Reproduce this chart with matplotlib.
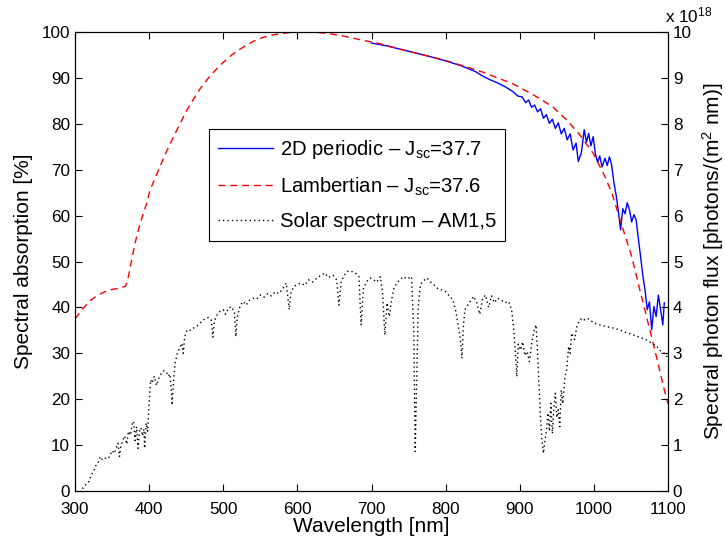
import matplotlib
matplotlib.use("Agg")
import matplotlib.pyplot as plt

plt.rcParams['font.family'] = ['Liberation Sans', 'DejaVu Sans']
plt.rcParams['mathtext.fontset'] = 'custom'
plt.rcParams['mathtext.rm'] = 'Liberation Sans'
plt.rcParams['mathtext.it'] = 'Liberation Sans'

# ---- data ----
periodic_wl = [700, 720, 740, 760, 780, 800, 820, 840, 850, 860, 870, 880, 890, 898, 903, 908, 912, 916, 920,
               924, 928, 932, 936, 940, 944, 948, 952, 956, 960, 964, 968, 972, 976, 979, 983, 987, 990,
               993, 996, 999, 1002, 1005, 1008, 1011, 1015, 1018, 1021, 1024, 1027, 1030, 1033, 1036,
               1039, 1042, 1045, 1048, 1051, 1054, 1057, 1060, 1063, 1066, 1069, 1072, 1075, 1078,
               1081, 1084, 1087, 1090, 1093, 1095]
periodic_abs = [97.6, 97.0, 96.2, 95.4, 94.6, 93.7, 92.7, 91.4, 90.4, 89.6, 88.9, 88.1, 87.1, 86.0, 85.9, 84.6,
                85.2, 83.6, 84.1, 82.6, 83.3, 81.2, 82.0, 80.1, 81.0, 79.0, 80.2, 77.8, 79.0, 76.5,
                77.8, 74.3, 75.8, 71.8, 73.6, 78.7, 76.0, 77.9, 75.2, 77.2, 73.5, 71.6, 73.0, 70.6, 72.5,
                70.9, 72.8, 71.0, 67.2, 64.5, 61.0, 56.9, 61.5, 60.4, 62.8, 61.3, 58.6, 60.2, 59.1,
                55.0, 51.1, 47.0, 43.8, 39.5, 41.2, 35.1, 40.2, 38.0, 42.7, 39.5, 36.2, 41.0]

lamb_wl = [300, 310, 320, 330, 340, 350, 360, 368, 372, 376, 381, 386, 391, 397, 401, 408, 415, 422, 431,
           440, 451, 460, 469, 482, 496, 507, 518, 530, 541, 555, 568, 585, 600, 620, 640, 660, 685,
           710, 740, 770, 800, 830, 851, 870, 891, 914, 930, 945, 963, 981, 999, 1015, 1025, 1037,
           1051, 1062, 1071, 1080, 1087, 1094, 1100]
lamb_abs = [37.5, 39.6, 41.4, 42.6, 43.4, 43.9, 44.2, 44.6, 46.7, 50.0, 54.0, 57.2, 59.9, 62.8, 65.4, 68.2,
            70.8, 73.5, 76.5, 79.5, 83.0, 85.4, 87.7, 90.4, 92.8, 94.4, 95.8, 97.0, 98.0, 98.9, 99.4,
            99.8, 100.0, 100.0, 99.7, 99.2, 98.3, 97.5, 96.2, 95.0, 93.8, 92.3, 91.2, 90.0, 88.7,
            86.7, 85.2, 83.6, 80.9, 77.6, 73.6, 68.5, 64.6, 58.2, 51.1, 43.8, 38.0, 32.2, 27.5, 22.7, 19.0]

solar_wl = [310, 315, 318, 322, 325, 328, 331, 334, 337, 340, 344, 347, 350, 353, 356, 358, 360, 362, 365,
            367, 370, 372, 375, 377, 379, 381, 383, 385, 387, 389, 391, 393, 394, 396, 398, 399, 400,
            402, 404, 407, 410, 413, 416, 420, 423, 426, 428, 430, 431, 433, 435, 438, 441, 444, 446,
            448, 451, 453, 456, 460, 465, 470, 475, 480, 484, 486, 488, 492, 496, 500, 503, 507, 511,
            515, 517, 519, 523, 527, 531, 535, 540, 545, 550, 555, 560, 565, 570, 575, 580, 585, 587,
            589, 591, 595, 600, 605, 610, 615, 620, 625, 630, 637, 642, 648, 653, 656, 659, 663, 669,
            674, 678, 683, 686, 689, 693, 698, 703, 707, 712, 715, 718, 721, 724, 727, 730, 734, 738,
            743, 748, 754, 757, 759, 761, 763, 766, 770, 775, 780, 785, 790, 795, 800, 805, 810, 814,
            817, 820, 822, 824, 826, 830, 834, 838, 842, 846, 850, 854, 858, 862, 866, 870, 875, 880,
            885, 889, 892, 895, 896, 898, 901, 904, 907, 910, 913, 916, 919, 922, 924, 926, 928, 930,
            932, 934, 936, 938, 940, 942, 944, 946, 948, 950, 952, 954, 956, 958, 961, 963, 966, 968,
            970, 974, 977, 980, 984, 988, 993, 1000, 1008, 1017, 1026, 1035, 1044, 1053, 1062, 1071,
            1078, 1085, 1090, 1095, 1100]
solar_flux = [0.05, 0.15, 0.18, 0.35, 0.42, 0.55, 0.60, 0.75, 0.68, 0.72, 0.70, 0.76, 0.88, 0.82, 0.95, 1.04,
              0.75, 0.98, 1.12, 1.20, 1.02, 1.30, 1.22, 1.45, 1.52, 1.10, 1.40, 0.93, 1.30, 1.38, 1.20,
              1.35, 0.93, 1.48, 1.30, 1.60, 1.90, 2.42, 2.35, 2.50, 2.30, 2.45, 2.55, 2.62, 2.60, 2.50,
              2.55, 2.20, 1.87, 2.40, 2.78, 3.00, 3.10, 3.22, 3.00, 3.36, 3.50, 3.52, 3.50, 3.55, 3.60,
              3.68, 3.75, 3.78, 3.72, 3.35, 3.70, 3.85, 3.92, 3.95, 3.85, 3.98, 4.02, 3.90, 3.36, 3.80,
              4.05, 4.13, 4.05, 4.15, 4.20, 4.18, 4.27, 4.22, 4.30, 4.25, 4.34, 4.30, 4.40, 4.53, 4.25,
              3.95, 4.30, 4.45, 4.50, 4.53, 4.48, 4.60, 4.55, 4.62, 4.68, 4.75, 4.65, 4.70, 4.60, 4.05,
              4.55, 4.70, 4.80, 4.78, 4.75, 4.68, 3.62, 4.40, 4.55, 4.64, 4.60, 4.55, 4.67, 4.30, 3.40,
              4.10, 3.80, 4.15, 4.40, 4.53, 4.60, 4.67, 4.62, 4.67, 3.50, 0.86, 2.50, 4.00, 4.50, 4.58,
              4.64, 4.55, 4.48, 4.40, 4.38, 4.34, 4.25, 4.16, 3.90, 3.60, 3.30, 2.89, 3.60, 3.95, 4.05,
              4.15, 4.24, 4.10, 3.85, 4.20, 4.27, 4.00, 4.25, 4.10, 4.20, 4.16, 4.10, 4.13, 3.95, 3.50,
              2.80, 2.49, 3.20, 3.07, 3.25, 2.95, 3.04, 2.82, 3.20, 3.47, 3.62, 3.00, 2.30, 1.60, 1.10,
              0.82, 1.10, 1.33, 1.70, 1.30, 1.91, 1.25, 1.80, 2.13, 1.60, 1.77, 1.40, 2.20, 1.90, 2.49,
              2.60, 3.15, 3.00, 3.44, 3.30, 3.58, 3.70, 3.77, 3.72, 3.75, 3.66, 3.62, 3.58, 3.55, 3.51,
              3.45, 3.40, 3.35, 3.29, 3.22, 3.15, 3.05, 3.00, 2.90]

x_ticks = [300, 400, 500, 600, 700, 800, 900, 1000, 1100]
left_ticks = [0, 10, 20, 30, 40, 50, 60, 70, 80, 90, 100]
right_ticks = [0, 1, 2, 3, 4, 5, 6, 7, 8, 9, 10]

labels = ['2D periodic \u2013 J$_{\\mathrm{sc}}$=37.7',
          'Lambertian \u2013 J$_{\\mathrm{sc}}$=37.6',
          'Solar spectrum \u2013 AM1,5']

# ---- figure ----
fig = plt.figure(figsize=(7.26, 5.44), dpi=100)
ax = fig.add_axes([75 / 726, 53 / 544, 593 / 726, 459 / 544])
ax2 = ax.twinx()

l1, = ax.plot(periodic_wl, periodic_abs, color='#0000ff', lw=1.0)
l2, = ax.plot(lamb_wl, lamb_abs, color='#ff0000', lw=1.0, linestyle=(0, (5, 3.5)))
l3, = ax2.plot(solar_wl, solar_flux, color='black', lw=1.0, linestyle=(0, (1, 2.2)))

ax.set_xlim(300, 1100)
ax.set_ylim(0, 100)
ax2.set_ylim(0, 10)
ax.set_xticks(x_ticks)
ax.set_yticks(left_ticks)
ax2.set_yticks(right_ticks)

ax.tick_params(direction='in', length=5, labelsize=12.3, top=True, right=False, width=0.8)
ax2.tick_params(direction='in', length=5, labelsize=12.3, width=0.8)
ax.tick_params(axis='x', pad=8)

ax.set_xlabel('Wavelength [nm]', fontsize=15, labelpad=0)
ax.set_ylabel('Spectral absorption [%]', fontsize=15, labelpad=6)
ax2.set_ylabel('Spectral photon flux [photons/(m$^2$ nm)]', fontsize=15, labelpad=6)

for sp in list(ax.spines.values()) + list(ax2.spines.values()):
    sp.set_linewidth(0.8)

fig.text(665 / 726, 1 - 22 / 544, 'x 10$^{18}$', fontsize=12.3, ha='left', va='baseline')

leg = ax2.legend([l1, l2, l3], labels, loc='upper left', bbox_to_anchor=(0.226, 0.789),
                 borderaxespad=0, fontsize=14.6, fancybox=False, framealpha=1, edgecolor='black',
                 handlelength=2.7, handletextpad=0.35, labelspacing=0.72, borderpad=0.45)
leg.get_frame().set_linewidth(0.8)

fig.savefig('out.png', dpi=100)
